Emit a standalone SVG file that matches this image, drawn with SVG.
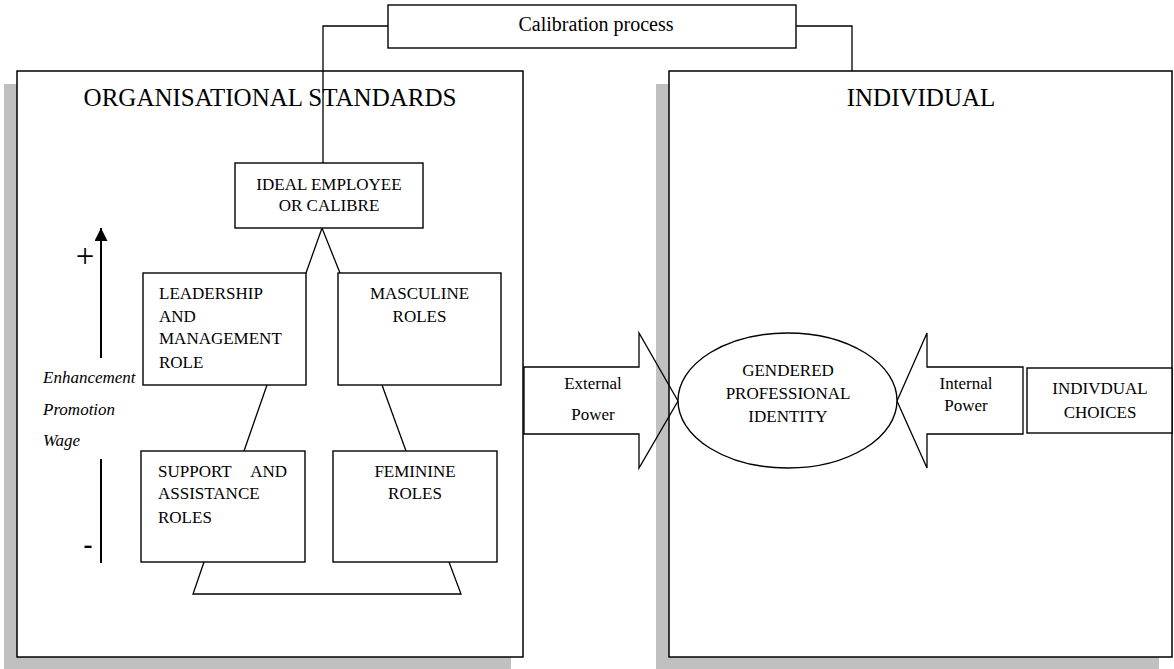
<svg xmlns="http://www.w3.org/2000/svg" width="1174" height="669" viewBox="0 0 1174 669">
  <style>
    .shadow { fill: #c0c0c0; stroke: none; }
    .frame { fill: #ffffff; stroke: #000000; stroke-width: 1.5; }
    .box { fill: #ffffff; stroke: #000000; stroke-width: 1.4; }
    .line { fill: none; stroke: #000000; stroke-width: 1.3; }
    .title { font-family: "Liberation Serif", "Times New Roman", serif; font-size: 25px; fill: #000; }
    .t { font-family: "Liberation Serif", "Times New Roman", serif; font-size: 17px; fill: #000; }
    .cal { font-family: "Liberation Serif", "Times New Roman", serif; font-size: 20px; fill: #000; }
    .ti { font-family: "Liberation Serif", "Times New Roman", serif; font-size: 17px; font-style: italic; fill: #000; }
    .mid { text-anchor: middle; }
  </style>
  <defs>
    <marker id="arrowUp" viewBox="0 0 10 10" refX="10" refY="5" markerWidth="6.5" markerHeight="6.5" markerUnits="strokeWidth" orient="auto">
      <path d="M0,0 L10,5 L0,10 Z" fill="#000"/>
    </marker>
  </defs>

  <!-- organisational standards panel -->
  <g id="organisational-standards">
    <rect class="shadow" x="4" y="84" width="507" height="585"/>
    <rect class="frame" x="17" y="71" width="506" height="586"/>
    <text class="title mid" x="270" y="106">ORGANISATIONAL STANDARDS</text>
  </g>

  <!-- individual panel -->
  <g id="individual">
    <rect class="shadow" x="656" y="84" width="503" height="585"/>
    <rect class="frame" x="669" y="71" width="503" height="586"/>
    <text class="title mid" x="921" y="106">INDIVIDUAL</text>
  </g>

  <!-- connectors -->
  <g id="connectors">
    <polyline class="line" points="388,26 323,26 323,163"/>
    <polyline class="line" points="796,26 852,26 852,71"/>
    <polyline class="line" points="306,273 322,228 340,273"/>
    <line class="line" x1="267" y1="385" x2="244" y2="451"/>
    <line class="line" x1="382" y1="385" x2="406" y2="451"/>
    <polyline class="line" points="204,562 193,594 461,594 449,562"/>
    <!-- power arrows -->
    <polygon class="line" points="524,367 639,367 639,333 678,401 639,468 639,434 524,434"/>
    <polygon class="line" points="897,401 927,333 927,367 1023,367 1023,434 927,434 927,468"/>
    <!-- enhancement scale -->
    <line x1="101" y1="358" x2="101" y2="228" stroke="#000" stroke-width="2" marker-end="url(#arrowUp)"/>
    <line x1="101" y1="459" x2="101" y2="563" stroke="#000" stroke-width="2"/>
  </g>

  <g id="calibration-process">
    <rect class="box" x="388" y="5" width="408" height="43"/>
    <text class="cal mid" x="596" y="31">Calibration process</text>
  </g>

  <g id="ideal-employee">
    <rect class="box" x="235" y="163" width="188" height="65"/>
    <text class="t mid" x="329" y="190">IDEAL EMPLOYEE</text>
    <text class="t mid" x="329" y="211">OR CALIBRE</text>
  </g>

  <g id="leadership-role">
    <rect class="box" x="143" y="273" width="163" height="112"/>
    <text class="t" x="159" y="299">LEADERSHIP</text>
    <text class="t" x="159" y="322">AND</text>
    <text class="t" x="159" y="344">MANAGEMENT</text>
    <text class="t" x="159" y="368">ROLE</text>
  </g>

  <g id="masculine-roles">
    <rect class="box" x="338" y="273" width="163" height="112"/>
    <text class="t mid" x="419.5" y="299">MASCULINE</text>
    <text class="t mid" x="419.5" y="322">ROLES</text>
  </g>

  <g id="support-roles">
    <rect class="box" x="141" y="451" width="164" height="111"/>
    <text class="t" x="158" y="477">SUPPORT</text>
    <text class="t" x="287" y="477" text-anchor="end">AND</text>
    <text class="t" x="158" y="499">ASSISTANCE</text>
    <text class="t" x="158" y="523">ROLES</text>
  </g>

  <g id="feminine-roles">
    <rect class="box" x="333" y="451" width="164" height="111"/>
    <text class="t mid" x="415" y="477">FEMININE</text>
    <text class="t mid" x="415" y="499">ROLES</text>
  </g>

  <g id="scale-labels">
    <text x="85" y="267" font-family="Liberation Serif, serif" font-size="33" text-anchor="middle">+</text>
    <text class="ti" x="43" y="383">Enhancement</text>
    <text class="ti" x="43" y="415">Promotion</text>
    <text class="ti" x="43" y="446">Wage</text>
    <text x="88" y="553" font-family="Liberation Serif, serif" font-size="27" font-weight="bold" text-anchor="middle">-</text>
  </g>

  <g id="external-power">
    <text class="t mid" x="593" y="389">External</text>
    <text class="t mid" x="593" y="420">Power</text>
  </g>

  <g id="gendered-identity">
    <ellipse class="box" cx="787.5" cy="400.5" rx="109.5" ry="67.5"/>
    <text class="t mid" x="788" y="376">GENDERED</text>
    <text class="t mid" x="788" y="399">PROFESSIONAL</text>
    <text class="t mid" x="788" y="422">IDENTITY</text>
  </g>

  <g id="internal-power">
    <text class="t mid" x="966" y="389">Internal</text>
    <text class="t mid" x="966" y="411">Power</text>
  </g>

  <g id="individual-choices">
    <rect class="box" x="1027" y="368" width="145" height="65"/>
    <text class="t mid" x="1100" y="394">INDIVDUAL</text>
    <text class="t mid" x="1100" y="418">CHOICES</text>
  </g>
</svg>
